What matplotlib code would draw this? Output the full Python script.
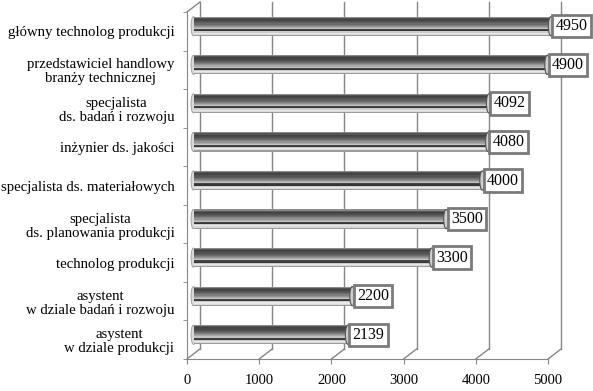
import matplotlib.pyplot as plt
import numpy as np
from matplotlib.patches import Ellipse

plt.rcParams['font.family'] = ['Liberation Serif', 'DejaVu Serif']

# bottom -> top
categories = [
    "asystent\nw dziale produkcji",
    "asystent\nw dziale badań i rozwoju",
    "technolog produkcji",
    "specjalista\nds. planowania produkcji",
    "specjalista ds. materiałowych",
    "inżynier ds. jakości",
    "specjalista\nds. badań i rozwoju",
    "przedstawiciel handlowy\nbranży technicznej",
    "główny technolog produkcji",
]
values = [2139, 2200, 3300, 3500, 4000, 4080, 4092, 4900, 4950]
xticks = [0, 1000, 2000, 3000, 4000, 5000]

W, H = 593, 391
fig = plt.figure(figsize=(W / 100, H / 100), dpi=100)
# front plane of the 3D box, in pixels
x0, x1 = 187, 548
ytop, ybot = 12, 359
ax = fig.add_axes([x0 / W, (H - ybot) / H, (x1 - x0) / W, (ybot - ytop) / H])
ax.set_xlim(0, 5000)
ax.set_ylim(-0.5, len(categories) - 0.5)

grid = '#868686'
px_x = (x1 - x0) / 5000          # pixels per value unit
px_y = (ybot - ytop) / len(categories)
DX = 13 / px_x                   # depth offset in data units
DY = 10 / px_y
ytop_d = len(categories) - 0.5

# back wall gridlines and floor diagonals
for v in xticks:
    ax.plot([v + DX, v + DX], [-0.5 + DY, ytop_d + DY], color=grid, lw=1, clip_on=False, zorder=1)
    ax.plot([v, v + DX], [-0.5, -0.5 + DY], color=grid, lw=1, clip_on=False, zorder=1)
ax.plot([0, DX], [ytop_d, ytop_d + DY], color=grid, lw=1, clip_on=False, zorder=1)

# cylinder bars from stacked slices
profile = ['#8a8a8a', '#555555', '#424242', '#484848', '#525252', '#5e5e5e', '#6c6c6c',
           '#7e7e7e', '#939393', '#aaaaaa', '#c2c2c2', '#444444', '#363636', '#cbcbcb',
           '#e8e8e8', '#d8d8d8', '#9c9c9c']
bh = 0.5
n = len(profile)
sh = bh / n
yc = np.arange(len(categories)) + DY / 2
for k, c in enumerate(profile):
    yy = yc + bh / 2 - (k + 0.5) * sh
    ax.barh(yy, values, left=DX / 2, height=sh * 1.02, color=c, lw=0, zorder=3, clip_on=False)

cap_w = 5 / px_x
for y, v in zip(yc, values):
    ax.add_patch(Ellipse((DX / 2, y), cap_w, bh, fc='#d8d8d8', ec='#9a9a9a', lw=0.6, zorder=2.5,
                         clip_on=False))
    ax.add_patch(Ellipse((v + DX / 2, y), cap_w, bh, fc='#cfcfcf', ec='#555555', lw=0.8, zorder=4,
                         clip_on=False))
    ax.annotate(str(v), (v + DX / 2 + cap_w / 2, y), xytext=(1.5, 0), textcoords='offset points',
                ha='left', va='center', fontsize=11.5, zorder=6, annotation_clip=False,
                bbox=dict(boxstyle='square,pad=0.2', fc='white', ec='#7a7a7a', lw=2))

for s in ['top', 'right']:
    ax.spines[s].set_visible(False)
for s in ['left', 'bottom']:
    ax.spines[s].set_color(grid)
    ax.spines[s].set_zorder(1)

ax.set_xticks(xticks)
ax.set_xticklabels([str(t) for t in xticks], fontsize=10.5)
ax.tick_params(axis='x', direction='out', length=3.5, color=grid, pad=7.5)
ax.set_yticks(np.arange(len(categories)))
ax.set_yticklabels(categories, fontsize=10.6, multialignment='center', linespacing=1.1)
ax.tick_params(axis='y', length=0, pad=9)
ax.set_yticks(np.arange(len(categories) + 1) - 0.5, minor=True)
ax.tick_params(axis='y', which='minor', direction='out', length=3, color=grid)

fig.savefig('out.png', dpi=100)
